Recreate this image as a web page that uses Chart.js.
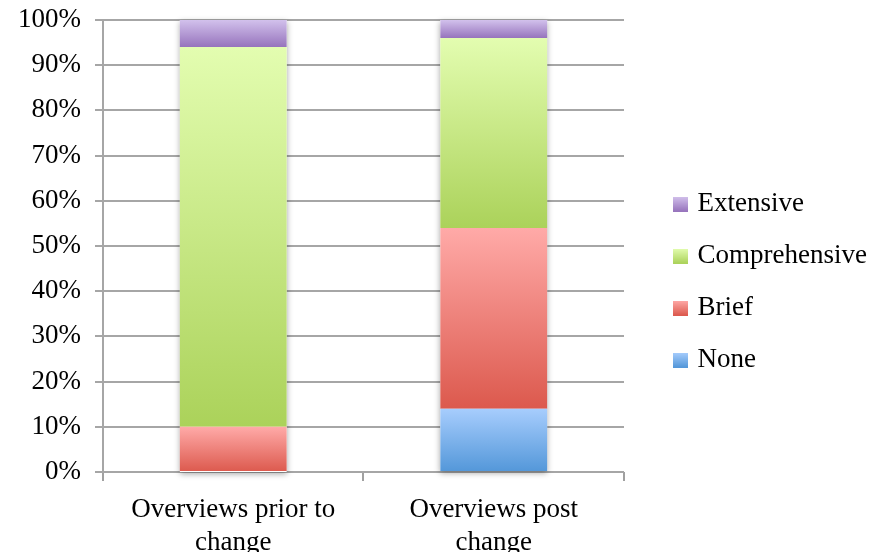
<!DOCTYPE html>
<html>
<head>
<meta charset="utf-8">
<script src="https://cdn.jsdelivr.net/npm/chart.js@4"></script>
<style>
  html, body { margin: 0; padding: 0; background: #fff; }
  #wrap { width: 874px; height: 552px; }
</style>
</head>
<body>
<div id="wrap"><canvas id="overview-chart" width="874" height="552"></canvas></div>
<script>
var categories = [['Overviews prior to', 'change'], ['Overviews post', 'change']];
var seriesNames = ['None', 'Brief', 'Comprehensive', 'Extensive'];
var noneValues = [0, 14];
var briefValues = [10, 40];
var comprehensiveValues = [84, 42];
var extensiveValues = [6, 4];
var yTicks = [0, 10, 20, 30, 40, 50, 60, 70, 80, 90, 100];

var allValues = [noneValues, briefValues, comprehensiveValues, extensiveValues];
var gradientStops = [
    ['#a7cdfd', '#5397d9'],
    ['#ffaaa8', '#dc594d'],
    ['#e3fdb0', '#abd25a'],
    ['#d2c1ec', '#9673bc']
];

function barFill(context) {
    var chart = context.chart;
    var stops = gradientStops[context.datasetIndex];
    if (!chart.chartArea || context.type !== 'data') return stops[1];
    var yScale = chart.scales.y;
    var base = 0;
    for (var d = 0; d < context.datasetIndex; d++) base += allValues[d][context.dataIndex];
    var top = yScale.getPixelForValue(base + allValues[context.datasetIndex][context.dataIndex]);
    var bottom = yScale.getPixelForValue(base);
    if (!(bottom > top)) return stops[1];
    var g = chart.ctx.createLinearGradient(0, top, 0, bottom);
    g.addColorStop(0, stops[0]);
    g.addColorStop(1, stops[1]);
    return g;
}

function swatch(i) {
    var c = document.createElement('canvas');
    c.width = 15; c.height = 15;
    var x = c.getContext('2d');
    var g = x.createLinearGradient(0, 0, 0, 15);
    g.addColorStop(0, gradientStops[i][0]);
    g.addColorStop(1, gradientStops[i][1]);
    x.fillStyle = g;
    x.fillRect(0, 0, 15, 15);
    return c;
}

var datasets = seriesNames.map(function (name, i) {
    return {
        label: name,
        data: allValues[i],
        backgroundColor: barFill,
        borderWidth: 0,
        barPercentage: 0.41,
        categoryPercentage: 1.0
    };
});

// soft shadow behind each stacked column
var barShadow = {
    id: 'barShadow',
    beforeDatasetsDraw: function (chart) {
        var ctx = chart.ctx;
        var first = chart.getDatasetMeta(0).data;
        var last = chart.getDatasetMeta(seriesNames.length - 1).data;
        ctx.save();
        ctx.shadowColor = 'rgba(0,0,0,0.35)';
        ctx.shadowBlur = 6;
        ctx.shadowOffsetY = 2;
        ctx.fillStyle = '#fff';
        for (var i = 0; i < first.length; i++) {
            var w = first[i].width;
            var top = last[i].y;
            var bottom = first[i].base;
            ctx.fillRect(first[i].x - w / 2, top, w, bottom - top);
        }
        ctx.restore();
    }
};

// legend column sits to the right with a gap from the plot
var legendPlace = {
    id: 'legendPlace',
    afterLayout: function (chart) {
        chart.legend.left += 27;
        chart.legend.top -= 8;
    }
};

Chart.defaults.font.family = '"Liberation Serif", serif';
Chart.defaults.color = '#000';

var chart = new Chart(document.getElementById('overview-chart').getContext('2d'), {
    type: 'bar',
    data: { labels: categories, datasets: datasets },
    plugins: [barShadow, legendPlace],
    options: {
        responsive: false,
        animation: false,
        devicePixelRatio: 1,
        layout: { padding: { top: 20, right: 0, left: 4, bottom: 0 } },
        plugins: {
            tooltip: { enabled: false },
            legend: {
                position: 'right',
                reverse: true,
                labels: {
                    font: { size: 27 },
                    color: '#000',
                    boxWidth: 15,
                    boxHeight: 15,
                    padding: 25,
                    usePointStyle: true,
                    pointStyleWidth: 8,
                    generateLabels: function (chart) {
                        return seriesNames.map(function (name, i) {
                            return {
                                text: name,
                                datasetIndex: i,
                                pointStyle: swatch(i),
                                fillStyle: gradientStops[i][1],
                                lineWidth: 0,
                                strokeStyle: 'rgba(0,0,0,0)',
                                hidden: false
                            };
                        });
                    }
                }
            }
        },
        scales: {
            x: {
                stacked: true,
                afterFit: function (scale) { scale.height = 80; },
                grid: {
                    offset: true,
                    drawOnChartArea: false,
                    tickLength: 9,
                    color: '#a0a0a0',
                    lineWidth: 2
                },
                border: { display: false },
                ticks: { font: { size: 27, lineHeight: 1.2 }, color: '#000', padding: 13 }
            },
            y: {
                stacked: true,
                min: 0,
                max: 100,
                afterBuildTicks: function (scale) {
                    scale.ticks = yTicks.map(function (v) { return { value: v }; });
                },
                afterFit: function (scale) {
                    scale.paddingTop = 0;
                    scale.paddingBottom = 0;
                },
                grid: { color: '#a6a6a6', lineWidth: 2, tickLength: 8 },
                border: { color: '#a6a6a6', width: 2 },
                ticks: {
                    font: { size: 27 },
                    color: '#000',
                    padding: 14,
                    callback: function (v) { return v + '%'; }
                }
            }
        }
    }
});

// fix the legend box width so the plot ends where the reference does
var baseFit = chart.legend.fit;
chart.legend.fit = function () {
    baseFit.call(this);
    this.width = 250;
};
chart.update();
</script>
</body>
</html>
